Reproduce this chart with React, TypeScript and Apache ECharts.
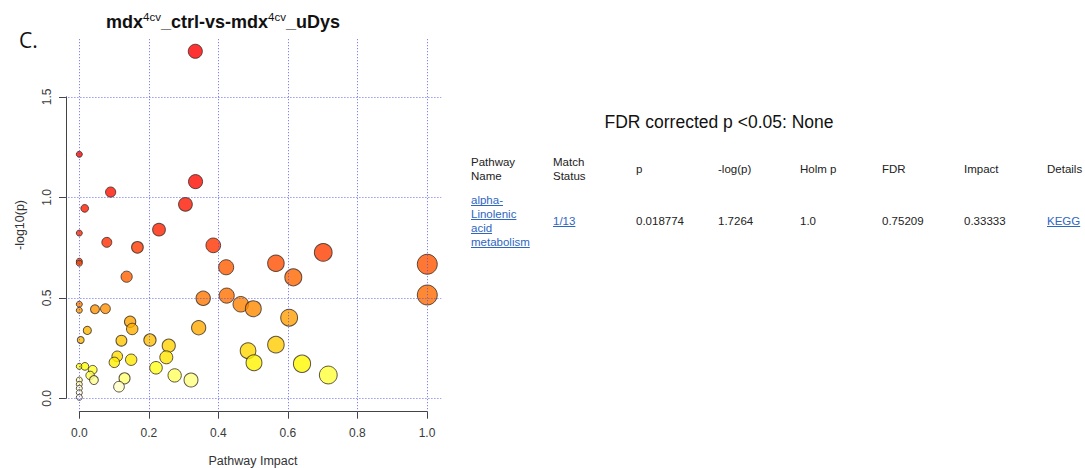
import React, { useEffect, useRef } from "react";
import * as echarts from "echarts";

// ---------- data ----------
const impact = [
  0.33333, 0, 0.334, 0.09, 0.305, 0.0155, 0.229, 0, 0.079, 0.385,
  0.167, 0.701, 0, 0, 0.565, 1.0, 0.422, 0.136, 0.615, 1.0,
  0.4235, 0.356, 0, 0.464, 0.5, 0.075, 0.045, 0, 0.603, 0.146,
  0.343, 0.152, 0.023, 0.004, 0.203, 0.121, 0.565, 0.257, 0.485, 0.109,
  0.25, 0.149, 0.1006, 0.502, 0.64, 0, 0.016, 0.2204, 0.0385, 0.7155,
  0.031, 0.274, 0.13, 0.321, 0.042, 0, 0, 0.114, 0, 0, 0,
];
const logp = [
  1.7264, 1.214, 1.078, 1.026, 0.965, 0.945, 0.839, 0.822, 0.776, 0.761,
  0.751, 0.726, 0.682, 0.672, 0.672, 0.667, 0.652, 0.605, 0.602, 0.514,
  0.511, 0.4975, 0.468, 0.468, 0.446, 0.446, 0.443, 0.438, 0.401, 0.381,
  0.351, 0.345, 0.338, 0.29, 0.29, 0.287, 0.267, 0.262, 0.237, 0.209,
  0.204, 0.192, 0.179, 0.177, 0.172, 0.159, 0.159, 0.152, 0.142, 0.116,
  0.114, 0.114, 0.0995, 0.091, 0.091, 0.091, 0.07, 0.058, 0.05, 0.028, 0.005,
];

const xTicks = [0, 0.2, 0.4, 0.6, 0.8, 1.0];
const yTicks = [0, 0.5, 1.0, 1.5];

const plotTitleParts = ["mdx", "4cv", "_ctrl-vs-mdx", "4cv", "_uDys"];
const panelLabel = "C.";
const xName = "Pathway Impact";
const yName = "-log10(p)";

const tableTitle = "FDR corrected p <0.05: None";
const tableHeaders = [["Pathway", "Name"], ["Match", "Status"], ["p"], ["-log(p)"], ["Holm p"], ["FDR"], ["Impact"], ["Details"]];
const pathwayName = ["alpha-", "Linolenic", "acid", "metabolism"];
const rowValues = ["1/13", "0.018774", "1.7264", "1.0", "0.75209", "0.33333", "KEGG"];
const linkValueCols = [0, 6];

// ---------- helpers ----------
function hsvHex(h: number, s: number, v: number) {
  const i = Math.floor(h * 6);
  const f = h * 6 - i;
  const p = v * (1 - s);
  const q = v * (1 - f * s);
  const t = v * (1 - (1 - f) * s);
  let r = 0, g = 0, b = 0;
  switch (i % 6) {
    case 0: r = v; g = t; b = p; break;
    case 1: r = q; g = v; b = p; break;
    case 2: r = p; g = v; b = t; break;
    case 3: r = p; g = q; b = v; break;
    case 4: r = t; g = p; b = v; break;
    default: r = v; g = p; b = q;
  }
  const hx = (x: number) => Math.round(x * 255).toString(16).padStart(2, "0");
  return "#" + hx(r) + hx(g) + hx(b);
}

function heatColors(n: number) {
  const j = Math.floor(n / 4);
  const i = n - j;
  const cols: string[] = [];
  for (let k = 0; k < i; k++) cols.push(hsvHex((1 / 6) * (i > 1 ? k / (i - 1) : 0), 1, 1));
  for (let k = 0; k < j; k++) {
    const s0 = 1 - 1 / (2 * j);
    const s1 = 1 / (2 * j);
    const s = j > 1 ? s0 + (s1 - s0) * (k / (j - 1)) : s0;
    cols.push(hsvHex(1 / 6, s, 1));
  }
  return cols;
}

const FONT = "'Liberation Sans', Arial, sans-serif";
const TBL_SIZE = 11.5;
const LINK = "#2e66c2";

function textWidth(t: string, size: number) {
  const c = document.createElement("canvas").getContext("2d");
  if (!c) return t.length * size * 0.5;
  c.font = `${size}px 'Liberation Sans', Arial, sans-serif`;
  return c.measureText(t).width;
}

export default function App() {
  const ref = useRef<HTMLDivElement>(null);

  useEffect(() => {
    if (!ref.current) return;
    const chart = echarts.init(ref.current, undefined, { renderer: "svg" });

    const n = logp.length;
    const order = logp.map((_, k) => k).sort((a, b) => logp[b] - logp[a]);
    const cols = heatColors(n);
    const colorOf: string[] = new Array(n);
    order.forEach((idx, rank) => (colorOf[idx] = cols[rank]));

    const points = order.map((k) => ({
      value: [impact[k], logp[k]],
      symbolSize: 6 + 14 * Math.sqrt(impact[k]),
      itemStyle: { color: colorOf[k], borderColor: "#352a22", borderWidth: 1 },
    }));

    const colX = [471, 553, 636, 718, 800, 882, 964, 1047];
    const graphics: any[] = [];

    // panel label & title
    graphics.push({
      type: "text", x: 19, y: 40,
      style: { text: panelLabel, fontSize: 21, fontFamily: "'Open Sans', sans-serif", fill: "#111", verticalAlign: "middle", align: "left" },
    });
    graphics.push({
      type: "text", x: 223, y: 21,
      style: {
        text: `{b|${plotTitleParts[0]}}{s|${plotTitleParts[1]}}{b|${plotTitleParts[2]}}{s|${plotTitleParts[3]}}{b|${plotTitleParts[4]}}`,
        align: "center", verticalAlign: "middle",
        rich: {
          b: { fontSize: 18, fontWeight: "bold", fontFamily: FONT, fill: "#111", lineHeight: 20, verticalAlign: "bottom" },
          s: { fontSize: 11.5, fontFamily: FONT, fill: "#111", lineHeight: 18, verticalAlign: "top" },
        },
      },
    });
    // axis names
    graphics.push({
      type: "text", x: 253, y: 461,
      style: { text: xName, fontSize: 12.5, fontFamily: FONT, fill: "#333", align: "center", verticalAlign: "middle" },
    });
    graphics.push({
      type: "text", x: 20, y: 225, rotation: Math.PI / 2,
      style: { text: yName, fontSize: 12.5, fontFamily: FONT, fill: "#333", align: "center", verticalAlign: "middle" },
    });

    // table
    graphics.push({
      type: "text", x: 719, y: 122,
      style: { text: tableTitle, fontSize: 17.5, fontFamily: FONT, fill: "#111", align: "center", verticalAlign: "middle" },
    });
    tableHeaders.forEach((lines, ci) => {
      const y0 = lines.length === 2 ? 162 : 169;
      lines.forEach((ln, li) => {
        graphics.push({
          type: "text", x: colX[ci], y: y0 + li * 14,
          style: { text: ln, fontSize: TBL_SIZE, fontFamily: FONT, fill: "#222", align: "left", verticalAlign: "middle" },
        });
      });
    });
    const addLink = (t: string, x: number, y: number) => {
      graphics.push({
        type: "text", x, y,
        style: { text: t, fontSize: TBL_SIZE, fontFamily: FONT, fill: LINK, align: "left", verticalAlign: "middle" },
      });
      const w = textWidth(t, TBL_SIZE);
      graphics.push({
        type: "line", shape: { x1: x, y1: y + 5.5, x2: x + w, y2: y + 5.5 },
        style: { stroke: LINK, lineWidth: 1 },
      });
    };
    pathwayName.forEach((ln, li) => addLink(ln, colX[0], 200 + li * 14));
    rowValues.forEach((v, vi) => {
      const x = colX[vi + 1];
      if (linkValueCols.includes(vi)) addLink(v, x, 221);
      else
        graphics.push({
          type: "text", x, y: 221,
          style: { text: v, fontSize: TBL_SIZE, fontFamily: FONT, fill: "#222", align: "left", verticalAlign: "middle" },
        });
    });

    const axisCol = "#444";
    const labelStyle = { color: "#3a3a3a", fontSize: 12, fontFamily: FONT };

    chart.setOption({
      animation: false,
      backgroundColor: "#fff",
      grid: [
        { left: 65.4, top: 37.5, width: 375.8, height: 374.7 },
        { left: 79.3, top: 410.7, width: 347.7, height: 1 },
        { left: 66, top: 96.8, width: 1, height: 301.5 },
      ],
      xAxis: [
        { gridIndex: 0, type: "value", min: -0.04, max: 1.04, show: false },
        {
          gridIndex: 1, type: "value", min: 0, max: 1, interval: 0.2, position: "bottom",
          axisLine: { show: true, lineStyle: { color: axisCol, width: 1 } },
          axisTick: { show: true, length: 7, lineStyle: { color: axisCol } },
          axisLabel: { ...labelStyle, margin: 15, formatter: (v: number) => v.toFixed(1) },
          splitLine: { show: false },
        },
        { gridIndex: 2, type: "value", min: 0, max: 1, show: false },
      ],
      yAxis: [
        { gridIndex: 0, type: "value", min: -0.069, max: 1.795, show: false },
        { gridIndex: 1, type: "value", min: 0, max: 1, show: false },
        {
          gridIndex: 2, type: "value", min: 0, max: 1.5, interval: 0.5, position: "left",
          axisLine: { show: true, lineStyle: { color: axisCol, width: 1 } },
          axisTick: { show: true, length: 7, lineStyle: { color: axisCol } },
          axisLabel: { ...labelStyle, margin: 13, rotate: 90, formatter: (v: number) => v.toFixed(1) },
          splitLine: { show: false },
        },
      ],
      series: [
        {
          type: "scatter", xAxisIndex: 0, yAxisIndex: 0, z: 1, data: [],
          markLine: {
            silent: true, symbol: "none", label: { show: false },
            lineStyle: { color: "#4b4bf0", type: [1, 2], width: 1, opacity: 0.85 },
            emphasis: { disabled: true },
            data: [...xTicks.map((v) => ({ xAxis: v })), ...yTicks.map((v) => ({ yAxis: v }))],
          },
        },
        {
          type: "scatter", xAxisIndex: 0, yAxisIndex: 0, z: 3, clip: false,
          symbol: "circle", data: points,
        },
      ],
      graphic: graphics,
    });

    return () => chart.dispose();
  }, []);

  return (
    <div
      ref={ref}
      style={{ position: "fixed", left: 0, top: 0, width: 1085, height: 468, background: "#fff" }}
    />
  );
}
